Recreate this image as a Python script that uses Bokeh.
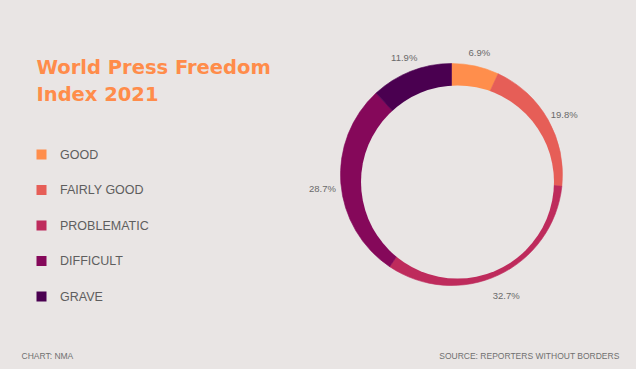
import numpy as np
from bokeh.plotting import figure
from bokeh.models import Range1d, ColumnDataSource
from bokeh.core.properties import value
from bokeh.embed import file_html
from bokeh.resources import INLINE

# ---- data ----
categories = ["GOOD", "FAIRLY GOOD", "PROBLEMATIC", "DIFFICULT", "GRAVE"]
shares = [6.9, 19.8, 32.7, 28.7, 11.9]
colors = ["#FF8E4C", "#E65E57", "#BE2B5C", "#85085A", "#4A0050"]
title_lines = ["World Press Freedom", "Index 2021"]
credit = "CHART: NMA"
source_note = "SOURCE: REPORTERS WITHOUT BORDERS"

# ---- layout / style ----
BG = "#E9E5E4"
PAD = 8
W, H = 620, 353
IMG_H = 369


def Y(py):
    return IMG_H - py


p = figure(width=W, height=H, x_range=Range1d(PAD, PAD + W),
           y_range=Range1d(IMG_H - PAD - H, IMG_H - PAD),
           output_backend="svg", toolbar_location=None, min_border=0)
p.axis.visible = False
p.grid.visible = False
p.outline_line_color = None
p.background_fill_color = BG
p.border_fill_color = BG

# donut
cx, cy, R_OUT = 451, Y(174), 111
hx, hy, R_IN = 457, Y(181.5), 96.5
frac = np.array(shares) / np.sum(shares)
cum_end = np.cumsum(frac)
cum_start = cum_end - frac
start_a = np.pi / 2 - 2 * np.pi * cum_start
end_a = np.pi / 2 - 2 * np.pi * cum_end
src = ColumnDataSource(dict(start=start_a, end=end_a, color=colors))
p.wedge(x=cx, y=cy, radius=R_OUT, start_angle="start", end_angle="end",
        direction="clock", fill_color="color", line_color="color",
        line_width=0.6, source=src)
p.circle(x=hx, y=hy, radius=R_IN, fill_color=BG, line_color=None)

# percentage labels
mid = np.pi / 2 - 2 * np.pi * (cum_start + frac / 2)
R_LAB = 129.5
lab_src = ColumnDataSource(dict(
    x=cx + R_LAB * np.cos(mid),
    y=cy + R_LAB * np.sin(mid) - 4,
    t=[f"{s:.1f}%" for s in shares]))
p.text(x="x", y="y", text="t", source=lab_src, text_align="center",
       text_baseline="middle", text_font=value("Liberation Sans"),
       text_font_size="9.5px", text_color="#6A6A6A")

# title
for i, line in enumerate(title_lines):
    p.text(x=[36], y=[Y(66.7 + 27.3 * i)], text=[line], text_align="left",
           text_baseline="alphabetic", text_font=value("DejaVu Sans"),
           text_font_style="bold", text_font_size="19.5px",
           text_color="#FF8C4A")

# legend
leg_y = [Y(154 + 35.5 * i) for i in range(len(categories))]
leg_src = ColumnDataSource(dict(y=leg_y, c=colors, t=categories))
p.rect(x=41, y="y", width=10, height=10, fill_color="c", line_color=None,
       source=leg_src)
p.text(x=59.5, y="y", text="t", source=leg_src, text_align="left",
       text_baseline="middle", text_font=value("Liberation Sans"),
       text_font_size="12.5px", text_color="#5E5E5E")

# footer
p.text(x=[21], y=[Y(355)], text=[credit], text_align="left",
       text_baseline="middle", text_font=value("Liberation Sans"),
       text_font_size="8.5px", text_color="#707070")
p.text(x=[619], y=[Y(355)], text=[source_note], text_align="right",
       text_baseline="middle", text_font=value("Liberation Sans"),
       text_font_size="8.5px", text_color="#707070")

template = """
{% block postamble %}
<style>html, body { background: #E9E5E4; margin: 0; padding: 0; } body { margin: 8px; }</style>
{% endblock %}
"""

html = file_html(p, INLINE, title="World Press Freedom Index 2021", template=template)
open("out.html", "w").write(html)
